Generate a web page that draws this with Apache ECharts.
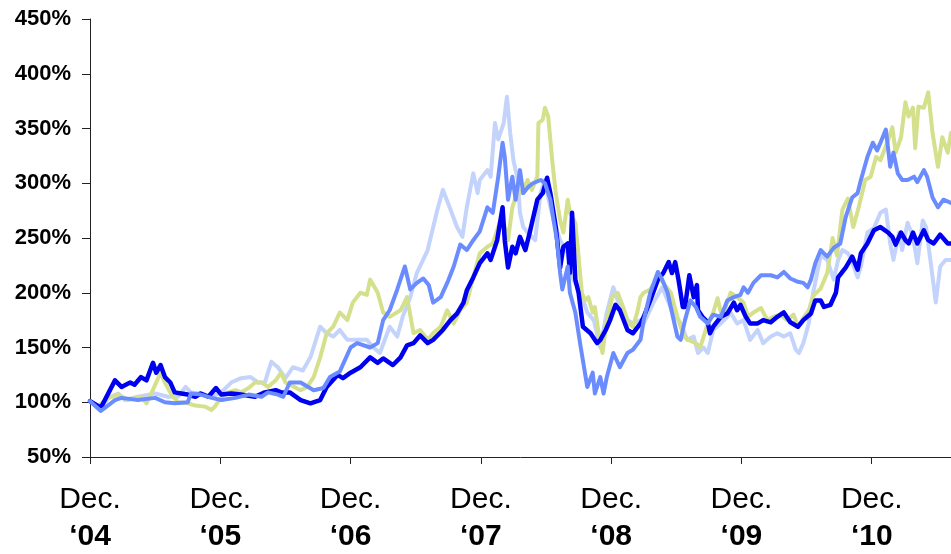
<!DOCTYPE html>
<html>
<head>
<meta charset="utf-8">
<script src="https://cdn.jsdelivr.net/npm/echarts@6/dist/echarts.min.js"></script>
<style>
html,body{margin:0;padding:0;background:#fff;}
#chart{width:951px;height:554px;}
</style>
</head>
<body>
<div id="chart"></div>
<script>
// x = months since Dec. 2004, y = indexed value in %
var tickMonths = [0, 12, 24, 36, 48, 60, 72];
var tickYears = ['04', '05', '06', '07', '08', '09', '10'];

var darkBlue = [[0,101],[1.0,95],[2.3,120],[2.9,114],[3.7,118],[4.1,116],[4.7,123],[5.2,120],[5.8,136],[6.1,127],[6.5,134],[6.9,123],[7.4,118],[7.8,109],[8.4,108],[9.0,107],[9.7,105],[10.2,108],[10.9,105],[11.6,113],[12.1,107],[13.0,108],[13.9,107],[15.2,105],[16.1,109],[17.1,111],[17.6,109],[18.4,109],[19.4,102],[20.3,99],[21.2,102],[21.8,114],[22.8,125],[23.3,122],[24.0,127],[24.9,132],[25.8,141],[26.5,136],[27.0,140],[27.9,134],[28.6,141],[29.2,152],[29.8,154],[30.4,161],[31.1,154],[31.6,157],[32.5,166],[33.2,175],[33.8,181],[34.4,191],[34.7,202],[35.3,214],[35.9,227],[36.6,236],[36.9,230],[37.5,248],[38.0,278],[38.2,248],[38.5,223],[38.9,242],[39.2,236],[39.6,251],[40.1,239],[40.5,255],[41.2,285],[41.7,291],[42.1,305],[42.4,291],[42.9,260],[43.3,223],[43.6,242],[44.0,245],[44.2,218],[44.4,273],[44.7,212],[45.0,200],[45.4,169],[46.1,163],[46.7,154],[47.0,157],[47.5,166],[47.9,175],[48.4,189],[48.8,184],[49.5,166],[50.0,163],[50.7,172],[51.0,178],[51.6,193],[52.3,212],[52.8,218],[53.3,228],[53.6,218],[53.9,228],[54.2,212],[54.6,187],[54.8,187],[55.2,216],[55.6,196],[55.9,207],[56.0,184],[56.4,178],[56.9,173],[57.1,163],[57.4,169],[58.1,178],[58.7,181],[59.3,191],[59.6,184],[59.9,189],[60.4,178],[60.8,172],[61.5,172],[62.0,175],[62.7,173],[63.3,178],[63.9,182],[64.5,173],[65.2,169],[65.7,175],[66.4,181],[66.8,193],[67.3,193],[67.6,187],[68.2,189],[68.7,200],[68.9,214],[69.6,223],[70.2,233],[70.7,221],[71.0,236],[71.6,245],[72.2,257],[72.8,260],[73.5,255],[73.9,251],[74.2,244],[74.7,255],[75.1,248],[75.4,245],[75.8,255],[76.2,245],[76.8,257],[77.2,248],[77.7,245],[78.3,253],[79.0,245],[79.3,245]];

var midBlue = [[0,101],[1.0,92],[2.3,102],[2.9,104],[4.4,102],[6.0,104],[6.9,100],[7.8,99],[9.0,100],[9.3,108],[10.2,107],[11.2,104],[12.1,102],[13.4,104],[14.6,107],[15.8,105],[16.4,109],[17.3,107],[17.8,105],[18.4,118],[19.4,118],[20.6,111],[21.5,113],[22.1,123],[23.0,128],[24.0,150],[24.6,154],[25.8,150],[26.5,154],[27.0,175],[27.6,184],[28.3,203],[29.0,224],[29.5,203],[30.1,209],[30.7,213],[31.2,207],[31.6,191],[32.3,196],[32.9,209],[33.5,224],[34.1,244],[34.7,239],[35.3,248],[35.9,256],[36.6,278],[37.1,273],[37.6,306],[38.0,337],[38.2,324],[38.5,285],[38.9,306],[39.2,285],[39.6,312],[39.9,291],[40.4,297],[40.8,300],[41.5,303],[41.9,300],[42.4,285],[42.7,266],[43.0,248],[43.3,218],[43.5,203],[44.0,224],[44.2,200],[44.7,182],[45.2,150],[45.8,114],[46.3,127],[46.5,108],[47.0,123],[47.3,108],[47.6,123],[48.2,145],[48.8,132],[49.5,145],[50.0,148],[50.7,157],[51.0,175],[51.6,200],[52.3,219],[52.7,212],[53.2,200],[53.6,182],[54.1,160],[54.4,157],[54.8,175],[55.3,193],[55.8,187],[56.2,178],[56.9,172],[57.4,180],[58.1,178],[58.7,193],[59.3,196],[59.9,198],[60.2,205],[60.6,200],[61.1,209],[61.8,216],[62.7,216],[63.3,214],[63.9,219],[64.5,213],[65.2,210],[65.7,209],[66.1,205],[66.4,212],[66.8,227],[67.3,239],[67.9,233],[68.5,241],[69.1,245],[69.6,269],[70.2,287],[70.7,291],[71.0,303],[71.6,324],[72.1,337],[72.5,330],[72.8,337],[73.3,349],[73.7,315],[74.0,328],[74.4,309],[74.8,303],[75.3,303],[75.9,306],[76.2,301],[76.8,312],[77.1,306],[77.6,287],[78.1,278],[78.6,285],[79.3,282]];

var lightBlue = [[0,101],[1.0,95],[1.7,104],[2.6,108],[3.2,102],[4.4,105],[6.0,108],[7.2,105],[8.1,105],[8.8,114],[9.3,109],[10.2,108],[11.2,105],[12.1,109],[13.0,118],[13.9,122],[14.8,123],[15.5,118],[16.1,118],[16.7,137],[17.3,132],[18.0,122],[18.7,132],[19.6,129],[20.3,141],[21.2,169],[21.8,163],[22.4,160],[23.0,166],[23.7,157],[24.6,157],[25.5,157],[26.1,150],[26.7,145],[27.6,169],[28.3,160],[28.8,178],[29.5,196],[30.1,218],[31.1,239],[32.0,276],[32.5,294],[33.2,276],[33.8,260],[34.3,251],[34.7,278],[35.3,309],[35.7,291],[35.9,303],[36.6,312],[36.9,306],[37.3,355],[37.6,340],[38.1,355],[38.4,379],[38.7,346],[39.0,321],[39.4,303],[39.6,273],[39.9,260],[40.3,255],[41.0,248],[41.5,291],[41.9,303],[42.2,287],[42.7,266],[43.3,248],[44.0,236],[44.5,212],[45.2,200],[45.8,182],[46.4,175],[47.0,150],[47.6,182],[48.2,205],[48.8,187],[49.5,175],[50.0,172],[50.7,175],[51.0,172],[51.9,191],[52.7,205],[53.2,193],[53.7,182],[54.4,172],[55.0,157],[55.6,160],[56.0,145],[56.5,150],[56.9,145],[57.4,166],[58.1,172],[58.7,178],[59.0,182],[59.6,172],[60.2,175],[60.8,157],[61.5,166],[62.0,154],[62.7,160],[63.3,163],[63.9,160],[64.5,163],[65.0,148],[65.3,145],[65.7,154],[66.2,172],[66.6,200],[67.3,234],[67.9,230],[68.5,212],[68.9,230],[69.3,239],[69.8,236],[70.0,233],[70.7,214],[71.0,224],[71.6,255],[72.2,259],[72.8,273],[73.3,276],[73.7,245],[74.0,230],[74.5,255],[74.8,239],[75.3,264],[75.8,251],[76.2,227],[76.7,266],[77.0,260],[77.4,230],[77.9,191],[78.3,224],[78.8,230],[79.3,230]];

var green = [[0,101],[0.7,96],[1.7,104],[2.6,107],[3.5,102],[4.7,105],[5.2,99],[5.6,107],[6.5,127],[6.9,118],[7.5,107],[8.1,100],[9.0,99],[9.7,97],[10.6,96],[11.2,93],[11.5,96],[12.1,105],[12.7,109],[13.4,111],[13.9,109],[14.6,113],[15.2,118],[15.8,118],[16.4,114],[17.1,120],[17.6,127],[18.0,118],[19.4,111],[20.0,114],[20.6,123],[21.2,141],[21.8,163],[22.4,169],[23.0,182],[23.7,175],[24.2,191],[24.9,200],[25.5,198],[25.8,212],[26.5,200],[27.0,182],[27.6,178],[28.6,184],[29.2,196],[29.8,163],[30.4,166],[31.1,157],[31.6,163],[32.3,169],[32.9,184],[33.5,172],[34.1,184],[34.7,191],[35.3,214],[35.9,236],[36.6,242],[37.1,245],[37.8,266],[38.2,260],[38.5,248],[38.9,278],[39.4,294],[39.8,291],[40.3,303],[40.7,294],[41.2,306],[41.3,355],[41.7,358],[41.9,369],[42.2,361],[42.6,318],[42.9,291],[43.3,266],[43.6,255],[44.0,285],[44.2,273],[44.7,264],[45.0,233],[45.3,200],[45.6,193],[45.9,196],[46.3,182],[46.5,187],[46.8,166],[47.2,145],[47.6,175],[48.1,196],[48.6,200],[49.1,187],[49.6,172],[50.0,169],[50.4,182],[50.7,196],[51.0,200],[51.6,203],[52.3,214],[52.8,209],[53.5,200],[54.1,178],[54.7,160],[55.1,157],[55.8,154],[56.2,150],[56.9,172],[57.4,182],[57.8,195],[58.2,178],[58.7,191],[59.0,200],[59.6,196],[60.2,191],[60.6,178],[61.1,182],[61.8,186],[62.4,175],[62.9,178],[63.6,180],[64.2,175],[64.8,180],[65.2,169],[65.7,177],[66.2,184],[66.6,197],[67.3,204],[67.9,218],[68.4,250],[68.8,234],[69.3,276],[69.8,286],[70.3,260],[70.8,278],[71.4,303],[71.9,306],[72.4,324],[72.8,321],[73.5,339],[73.9,351],[74.2,328],[74.7,342],[75.1,374],[75.4,361],[75.8,369],[76.0,332],[76.3,370],[76.8,369],[77.2,383],[77.6,346],[78.1,315],[78.5,342],[79.0,328],[79.3,346]];

var chart = echarts.init(document.getElementById('chart'), null, {renderer: 'canvas'});
var FONT = '"Liberation Sans", Arial, sans-serif';

function makeLine(name, data, color, width) {
  return {
    name: name,
    type: 'line',
    data: data,
    showSymbol: false,
    symbol: 'none',
    smooth: false,
    clip: true,
    lineStyle: {color: color, width: width, join: 'round', cap: 'round'},
    itemStyle: {color: color},
    emphasis: {disabled: true}
  };
}

chart.setOption({
  animation: false,
  backgroundColor: '#ffffff',
  grid: {left: 90, right: 0, top: 19, bottom: 97, containLabel: false},
  xAxis: {
    type: 'value',
    min: 0,
    max: 79.3,
    interval: 12,
    axisLine: {show: true, lineStyle: {color: '#222', width: 1}},
    axisTick: {show: true, length: 7, customValues: tickMonths, lineStyle: {color: '#222'}},
    splitLine: {show: false},
    axisLabel: {
      customValues: tickMonths,
      margin: 24,
      formatter: function (v) {
        var i = tickMonths.indexOf(v);
        if (i < 0) return '';
        return '{a|Dec.}\n{b|\u2018' + tickYears[i] + '}';
      },
      rich: {
        a: {fontFamily: FONT, fontSize: 30, fontWeight: 'normal', color: '#000', lineHeight: 37, align: 'center'},
        b: {fontFamily: FONT, fontSize: 30, fontWeight: 'bold', color: '#000', lineHeight: 37, align: 'center'}
      }
    }
  },
  yAxis: {
    type: 'value',
    min: 50,
    max: 450,
    interval: 50,
    axisLine: {show: true, lineStyle: {color: '#222', width: 1}},
    axisTick: {show: true, length: 8, lineStyle: {color: '#222'}},
    splitLine: {show: false},
    axisLabel: {
      margin: 19,
      formatter: '{value}%',
      fontFamily: FONT,
      fontSize: 22,
      fontWeight: 'bold',
      color: '#000'
    }
  },
  series: [
    makeLine('Series D', lightBlue, '#c3d3fb', 4),
    makeLine('Series C', green, '#d4e08c', 4),
    makeLine('Series A', darkBlue, '#0000f0', 4.5),
    makeLine('Series B', midBlue, '#6a8cff', 4)
  ]
});
</script>
</body>
</html>
